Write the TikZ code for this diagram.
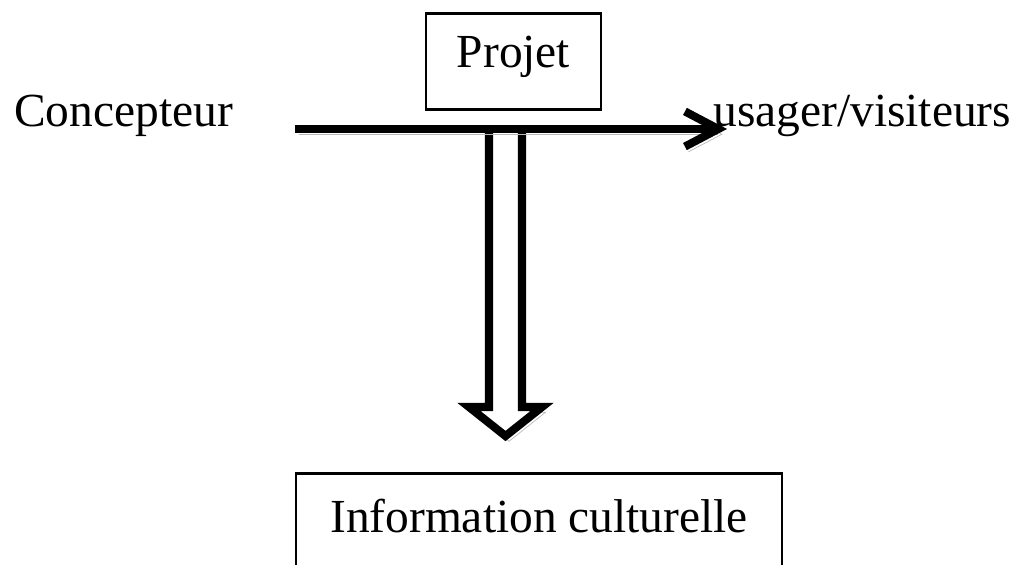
\documentclass[tikz,border=0pt]{standalone}
\usepackage{fontspec}
\setmainfont{Liberation Serif}
\usetikzlibrary{positioning, arrows.meta}

\begin{document}
\begin{tikzpicture}
    [
        x=0.02cm, y=-0.02cm,
        every node/.style={font=\fontsize{27}{32}\selectfont, inner sep=0pt},
        box_node/.style={rectangle, draw=black, line width=1.6pt},
        shade_line/.style={preaction={draw=black!28, transform canvas={shift={(2pt,-3pt)}}}},
    ]
        \useasboundingbox (0,0) rectangle (1016,564) ;
        \node[box_node, anchor=north, minimum width=3.5cm, text height=1.08cm, text depth=0.84cm] (projet) at (513.5,12) {Projet} ;
        \node[anchor=base west] (concepteur) at (14,127) {Concepteur} ;
        \node[anchor=base west] (usager) at (713,127) {usager/visiteurs} ;
        \node[box_node, anchor=north, minimum width=9.72cm, text height=1.18cm, text depth=2cm] (info) at (539,472) {Information culturelle} ;
        \coordinate (start) at (295,129) ;
        \coordinate (tip) at (727,129) ;
        \draw[shade_line, line width=4.6pt, line join=miter, color=black, fill=white] (489,129) -- (489,407) -- (469,407) -- (505.5,436) -- (542,407) -- (522,407) -- (522,129) ;
        \draw[shade_line, -{Straight Barb[length=19pt, width=20pt]}, line width=4.6pt, color=black] (start) -- (tip) ;
    \end{tikzpicture}
\end{document}
